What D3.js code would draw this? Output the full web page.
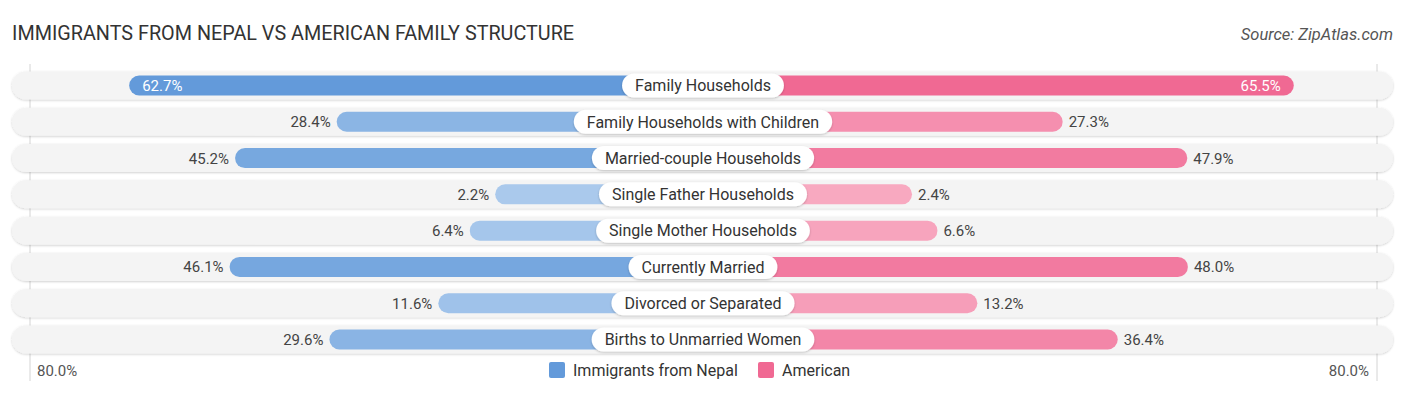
<!DOCTYPE html>
<html>
<head>
<meta charset="utf-8">
<script src="https://cdn.jsdelivr.net/npm/d3@7"></script>
<style>
  html, body { margin: 0; padding: 0; background: #ffffff; }
  svg { display: block; font-family: Roboto, "Noto Sans", sans-serif; }
</style>
</head>
<body>
<svg id="chart" width="1406" height="395"></svg>
<script>
const categories = [
  "Family Households",
  "Family Households with Children",
  "Married-couple Households",
  "Single Father Households",
  "Single Mother Households",
  "Currently Married",
  "Divorced or Separated",
  "Births to Unmarried Women"
];
const nepalValues = [62.7, 28.4, 45.2, 2.2, 6.4, 46.1, 11.6, 29.6];
const americanValues = [65.5, 27.3, 47.9, 2.4, 6.6, 48.0, 13.2, 36.4];
const seriesNames = ["Immigrants from Nepal", "American"];
const axisMaxLabel = "80.0%";
const axisMax = 80;

const W = 1406, H = 395;
const cx = 703;
const svg = d3.select("#chart");

const defs = svg.append("defs");
const sh = defs.append("filter").attr("id", "pillShadow")
  .attr("x", "-20%").attr("y", "-40%").attr("width", "140%").attr("height", "180%");
sh.append("feDropShadow").attr("dx", 0).attr("dy", 1).attr("stdDeviation", 1.2)
  .attr("flood-color", "#000").attr("flood-opacity", 0.22);
const tsh = defs.append("filter").attr("id", "trackShadow")
  .attr("x", "-5%").attr("y", "-30%").attr("width", "110%").attr("height", "160%");
tsh.append("feDropShadow").attr("dx", 0).attr("dy", 0.8).attr("stdDeviation", 0.9)
  .attr("flood-color", "#000").attr("flood-opacity", 0.2);

// scales
const len = d3.scaleLinear().domain([0, axisMax]).range([194.5, 678.5]);
const y = d3.scalePoint().domain(categories).range([85.5, 339.5]);
const blueColor = d3.scaleLinear().domain([0, axisMax]).range(["#adcbed", "#4e8dd5"]);
const pinkColor = d3.scaleLinear().domain([0, axisMax]).range(["#f8abc2", "#ee5a89"]);

// title + source
svg.append("text").attr("x", 12).attr("y", 40)
  .attr("font-size", 19.8).attr("fill", "#333").text("IMMIGRANTS FROM NEPAL VS AMERICAN FAMILY STRUCTURE");
svg.append("text").attr("x", 1393).attr("y", 40).attr("text-anchor", "end")
  .attr("font-size", 16.5).attr("font-style", "italic").attr("fill", "#555").text("Source: ZipAtlas.com");

// grid lines
[30, 1377].forEach(gx => {
  svg.append("line").attr("x1", gx).attr("x2", gx).attr("y1", 64).attr("y2", 381)
    .attr("stroke", "#d4d4d4").attr("stroke-width", 1);
});

const trackH = 28, barH = 20;
const rows = svg.append("g").selectAll("g").data(categories).join("g")
  .attr("transform", d => `translate(0,${y(d)})`);

rows.append("rect")
  .attr("x", 12).attr("y", -trackH / 2).attr("width", 1393 - 12).attr("height", trackH)
  .attr("rx", trackH / 2).attr("fill", "#f4f4f4").attr("filter", "url(#trackShadow)");

// left bars
rows.append("rect")
  .attr("x", (d, i) => cx - len(nepalValues[i]))
  .attr("y", -barH / 2).attr("height", barH)
  .attr("width", (d, i) => len(nepalValues[i]))
  .attr("rx", barH / 2)
  .attr("fill", (d, i) => blueColor(nepalValues[i]));
// right bars
rows.append("rect")
  .attr("x", cx)
  .attr("y", -barH / 2).attr("height", barH)
  .attr("width", (d, i) => len(americanValues[i]))
  .attr("rx", barH / 2)
  .attr("fill", (d, i) => pinkColor(americanValues[i]));

const inside = v => v > 55;
// left value labels
rows.append("text")
  .attr("x", (d, i) => inside(nepalValues[i]) ? cx - len(nepalValues[i]) + 13 : cx - len(nepalValues[i]) - 6)
  .attr("y", 5.5)
  .attr("text-anchor", (d, i) => inside(nepalValues[i]) ? "start" : "end")
  .attr("font-size", 15)
  .attr("fill", (d, i) => inside(nepalValues[i]) ? "#ffffff" : "#444")
  .text((d, i) => nepalValues[i].toFixed(1) + "%");
// right value labels
rows.append("text")
  .attr("x", (d, i) => inside(americanValues[i]) ? cx + len(americanValues[i]) - 13 : cx + len(americanValues[i]) + 6)
  .attr("y", 5.5)
  .attr("text-anchor", (d, i) => inside(americanValues[i]) ? "end" : "start")
  .attr("font-size", 15)
  .attr("fill", (d, i) => inside(americanValues[i]) ? "#ffffff" : "#444")
  .text((d, i) => americanValues[i].toFixed(1) + "%");

// center pills
rows.each(function (d) {
  const g = d3.select(this);
  const pill = g.append("rect").attr("fill", "#fff").attr("filter", "url(#pillShadow)");
  const t = g.append("text").attr("x", cx).attr("y", 5.8).attr("text-anchor", "middle")
    .attr("font-size", 16).attr("fill", "#333").text(d);
  const w = t.node().getComputedTextLength() + 26;
  pill.attr("x", cx - w / 2).attr("y", -12).attr("width", w).attr("height", 24).attr("rx", 12);
});

// axis labels
svg.append("text").attr("x", 37).attr("y", 376).attr("font-size", 15).attr("fill", "#555").text(axisMaxLabel);
svg.append("text").attr("x", 1369).attr("y", 376).attr("text-anchor", "end").attr("font-size", 15).attr("fill", "#555").text(axisMaxLabel);

// legend
const legend = svg.append("g");
const legendColors = [blueColor(62.7), pinkColor(65.5)];
const lx = [549, 758];
seriesNames.forEach((name, i) => {
  legend.append("rect").attr("x", lx[i]).attr("y", 362).attr("width", 16).attr("height", 16)
    .attr("rx", 2).attr("fill", legendColors[i]);
  legend.append("text").attr("x", lx[i] + 24).attr("y", 376).attr("font-size", 16)
    .attr("fill", "#333").text(name);
});
</script>
</body>
</html>
